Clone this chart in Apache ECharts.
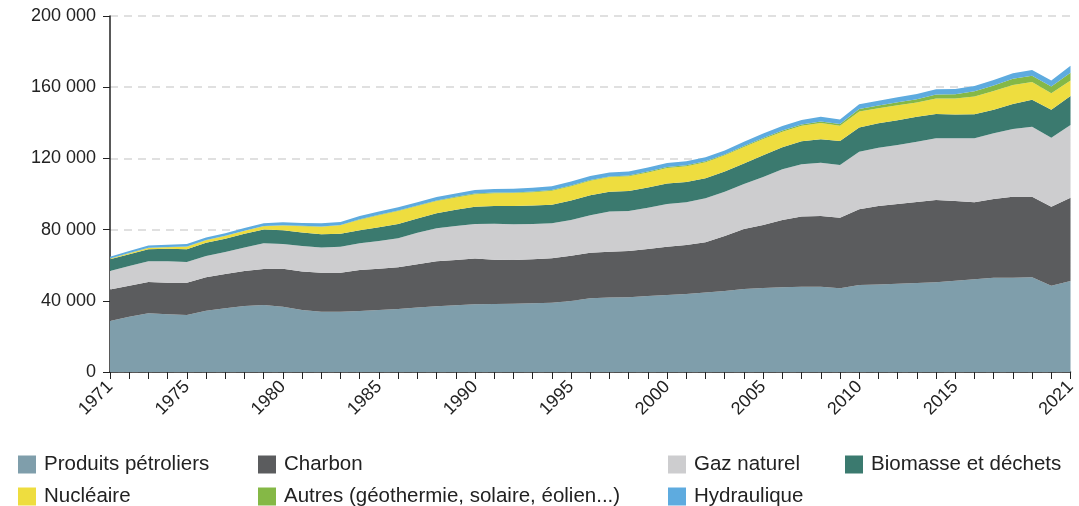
<!DOCTYPE html>
<html>
    <head>
        <meta charset="UTF-8">
        <script src="https://cdn.jsdelivr.net/npm/echarts@6/dist/echarts.min.js"></script>
        <style>
            html, body { margin: 0; padding: 0; background: #fff; }
        </style>
    </head>
    <body>
        <div id="main" style="width:1079px;height:506px"></div>
        <script type="text/javascript">
            // years 1971..2021
            var years = [];
            for (var y = 1971; y <= 2021; y++) { years.push(String(y)); }

            // values in TWh
            var petrole = [28700, 31100, 33000, 32400, 32000, 34400, 35800, 37100, 37600, 36700,
                34800, 33900, 33900, 34300, 34800, 35400, 36300, 37000, 37500, 38000,
                38200, 38400, 38600, 38900, 39900, 41400, 41800, 42000, 42700, 43300,
                43800, 44600, 45500, 46600, 47200, 47600, 47900, 47900, 47000, 48900,
                49100, 49600, 50000, 50400, 51300, 52100, 53000, 53000, 53200, 48500, 51100];
            var charbon = [17700, 17400, 17600, 17800, 18200, 18800, 19300, 19600, 20300, 21300,
                21600, 21900, 21900, 23000, 23200, 23400, 24200, 25200, 25400, 25700,
                24900, 24500, 24700, 25000, 25400, 25600, 25800, 26000, 26400, 27100,
                27500, 28300, 30900, 33700, 35400, 37800, 39400, 39700, 39700, 42500,
                44200, 44800, 45500, 46200, 44800, 43200, 44200, 45500, 45300, 44400, 46800];
            var gaz = [10300, 11100, 11600, 12000, 11600, 12000, 12300, 13300, 14400, 13900,
                14400, 14200, 14600, 15000, 15600, 16300, 17800, 18500, 19100, 19400,
                20200, 20100, 19800, 19600, 20100, 21000, 22500, 22400, 23200, 24000,
                24000, 24700, 24900, 25300, 26900, 28500, 29400, 30000, 29600, 32400,
                32700, 33100, 33900, 34700, 35200, 36000, 36900, 38000, 39300, 38700, 40900];
            var biomasse = [6600, 6600, 6800, 7000, 7200, 7400, 7500, 7700, 7800, 7800,
                7600, 7400, 7300, 7300, 7700, 8000, 8000, 8500, 9200, 9800,
                10000, 10200, 10400, 10500, 11000, 11300, 11200, 11300, 11300, 11500,
                11500, 11300, 11300, 11600, 12300, 12300, 12900, 13200, 13500, 13500,
                13700, 14000, 14000, 13700, 13300, 13500, 13300, 14100, 15100, 15800, 16200];
            var nucleaire = [300, 500, 700, 900, 1400, 1400, 1500, 1600, 1800, 2600,
                3500, 4200, 4700, 6000, 6700, 7300, 7000, 6900, 6900, 7000,
                7100, 7300, 7500, 7800, 8000, 8200, 8200, 8300, 8500, 8700,
                8800, 9000, 9100, 9200, 9100, 8800, 8700, 9100, 8500, 9100,
                8500, 8300, 8000, 8700, 9000, 10000, 10500, 10700, 10000, 9200, 8800];
            var autres = [100, 100, 100, 100, 100, 100, 100, 100, 100, 200,
                200, 200, 200, 200, 300, 300, 300, 300, 300, 400,
                400, 400, 400, 400, 400, 400, 400, 400, 500, 500,
                500, 500, 500, 600, 600, 700, 800, 900, 1000, 1300,
                1500, 1700, 1900, 2200, 2500, 2900, 3100, 3400, 3600, 3800, 4300];
            var hydraulique = [1100, 1200, 1200, 1300, 1400, 1400, 1400, 1500, 1500, 1600,
                1600, 1700, 1700, 1800, 1800, 1800, 1800, 1900, 1900, 2000,
                2000, 2000, 2100, 2100, 2200, 2200, 2200, 2200, 2300, 2300,
                2300, 2300, 2300, 2400, 2500, 2500, 2500, 2600, 2600, 2700,
                2700, 2800, 2900, 2900, 2900, 3000, 3000, 3100, 3200, 3300, 4000];

            var names = ['Produits pétroliers', 'Charbon', 'Gaz naturel', 'Biomasse et déchets',
                'Nucléaire', 'Autres (géothermie, solaire, éolien...)', 'Hydraulique'];
            var colors = ['#7f9eab', '#5b5c5e', '#cdcdcf', '#3b7a6f', '#eedd3f', '#85b846', '#5eabdf'];
            var values = [petrole, charbon, gaz, biomasse, nucleaire, autres, hydraulique];

            var myChart = echarts.init(document.getElementById('main'));

            var series = [];
            for (var i = 0; i < names.length; i++) {
                series.push({
                    name: names[i],
                    type: 'line',
                    stack: 'total',
                    symbol: 'none',
                    lineStyle: { width: 0 },
                    areaStyle: { color: colors[i], opacity: 1 },
                    itemStyle: { color: colors[i] },
                    data: values[i]
                });
            }

            var legendText = { fontSize: 20.5, color: '#222', fontFamily: 'Liberation Sans', padding: [0, 0, 0, 3] };
            function makeLegend(left, data) {
                return {
                    orient: 'vertical', left: left, top: 454, height: 60,
                    padding: 0,
                    itemWidth: 18, itemHeight: 18, itemGap: 11,
                    icon: 'rect', textStyle: legendText, data: data
                };
            }

            var option = {
                animation: false,
                color: colors,
                grid: { left: 110, right: 8, top: 16, bottom: 134 },
                legend: [
                    makeLegend(18, [names[0], names[4]]),
                    makeLegend(258, [names[1], names[5]]),
                    makeLegend(668, [names[2], names[6]]),
                    makeLegend(845, [names[3]])
                ],
                xAxis: {
                    type: 'category',
                    data: years,
                    boundaryGap: false,
                    axisLine: { lineStyle: { color: '#222', width: 1.5 } },
                    axisTick: { interval: 0, length: 7, lineStyle: { color: '#222' } },
                    axisLabel: {
                        rotate: 45,
                        margin: 12,
                        fontSize: 18,
                        color: '#222',
                        fontFamily: 'Liberation Sans',
                        interval: function (idx, val) {
                            var n = Number(val);
                            return n === 1971 || n === 2021 || (n % 5 === 0 && n < 2020);
                        }
                    },
                    splitLine: { show: false }
                },
                yAxis: {
                    type: 'value',
                    min: 0,
                    max: 200000,
                    interval: 40000,
                    axisLine: { show: true, lineStyle: { color: '#222', width: 1.5 } },
                    axisTick: { show: true, length: 7, lineStyle: { color: '#222' } },
                    axisLabel: {
                        fontSize: 18,
                        color: '#222',
                        margin: 14,
                        fontFamily: 'Liberation Sans',
                        formatter: function (v) {
                            return String(v).replace(/\B(?=(\d{3})+(?!\d))/g, ' ');
                        }
                    },
                    splitLine: { lineStyle: { color: '#d6d6d6', type: [8, 6], width: 1.5 } }
                },
                series: series
            };

            option && myChart.setOption(option);
        </script>
    </body>
</html>
